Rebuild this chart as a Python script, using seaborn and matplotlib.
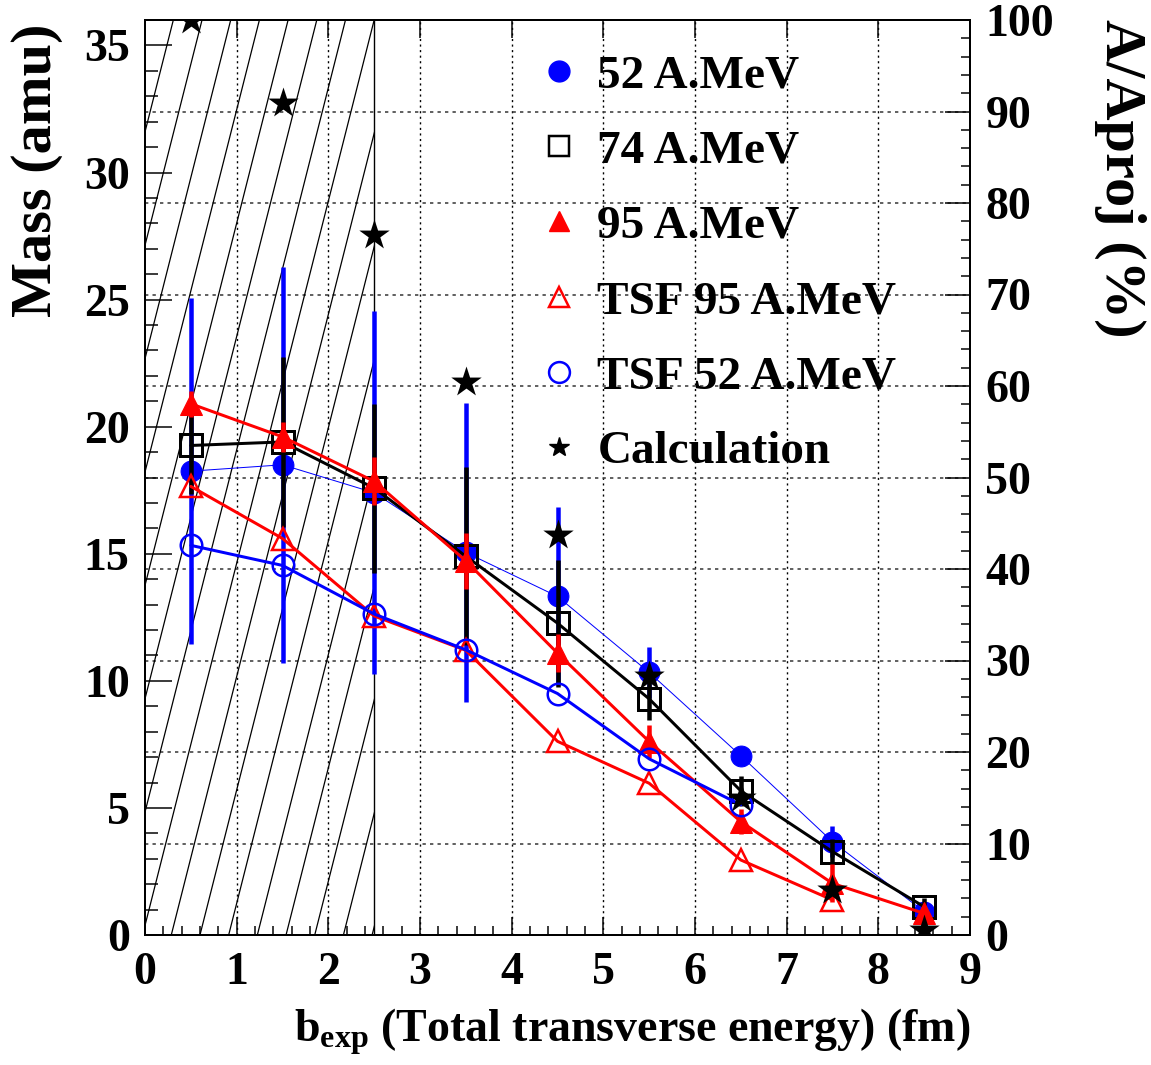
import numpy as np
import pandas as pd
import matplotlib
matplotlib.use("Agg")
import matplotlib.pyplot as plt
import seaborn as sns
from matplotlib.lines import Line2D
from matplotlib.patches import Rectangle
from matplotlib.ticker import MultipleLocator, FixedLocator

# ---------------- data ----------------
b_exp = [0.5, 1.5, 2.5, 3.5, 4.5, 5.5, 6.5, 7.5, 8.5]
mass_52 = [18.25, 18.5, 17.4, 15.05, 13.32, 10.33, 7.05, 3.67, 0.92]
err_52 = [6.8, 7.8, 7.15, 5.9, 3.5, 1.0, 0.3, 0.6, 0.2]
mass_74 = [19.26, 19.4, 17.58, 14.9, 12.27, 9.29, 5.67, 3.28, 1.11]
err_74 = [1.9, 3.35, 3.33, 3.5, 2.5, 0.85, 0.6, 0.5, 0.35]
mass_95 = [20.9, 19.6, 17.85, 14.72, 11.09, 7.61, 4.46, 2.03, 0.85]
err_95 = [0.5, 0.6, 0.95, 1.1, 0.75, 0.65, 0.5, 0.75, 0.2]
b_tsf95 = [0.5, 1.5, 2.5, 3.5, 4.5, 5.5, 6.5, 7.5]
mass_tsf95 = [17.65, 15.6, 12.55, 11.2, 7.62, 5.97, 2.95, 1.38]
b_tsf52 = [0.5, 1.5, 2.5, 3.5, 4.5, 5.5, 6.5]
mass_tsf52 = [15.33, 14.54, 12.63, 11.22, 9.5, 6.93, 5.12]
mass_calc = [36.0, 32.74, 27.56, 21.74, 15.75, 10.2, 5.38, 1.77, 0.2]

labels = ["52 A.MeV", "74 A.MeV", "95 A.MeV", "TSF 95 A.MeV", "TSF 52 A.MeV", "Calculation"]
x_ticks = [0, 1, 2, 3, 4, 5, 6, 7, 8, 9]
y_ticks = [0, 5, 10, 15, 20, 25, 30, 35]
pct_ticks = [0, 10, 20, 30, 40, 50, 60, 70, 80, 90, 100]
x_range = (0, 9)
mass_range = (0, 36)
pct_range = (0, 100)
excluded_b = (0, 2.5)   # hatched region

# ---------------- style ----------------
sns.set_theme(style="white")
FONT = ["Liberation Serif", "DejaVu Serif"]
plt.rcParams["font.family"] = FONT
plt.rcParams["font.weight"] = "bold"
plt.rcParams["text.color"] = "black"
plt.rcParams["axes.labelcolor"] = "black"
plt.rcParams["xtick.color"] = "black"
plt.rcParams["ytick.color"] = "black"
plt.rcParams["mathtext.fontset"] = "custom"
plt.rcParams["mathtext.rm"] = "Liberation Serif:bold"
plt.rcParams["mathtext.bf"] = "Liberation Serif:bold"
plt.rcParams["mathtext.it"] = "Liberation Serif:bold"

PX = 0.72  # points per pixel at dpi 100
BLUE, RED, BLACK = "#0000ff", "#ff0000", "#000000"

fig = plt.figure(figsize=(11.51, 10.65), dpi=100)
W, H = 1151, 1065
L, R, T, B = 145, 970, 20, 935
ax2 = fig.add_axes([L / W, 1 - B / H, (R - L) / W, (B - T) / H])
ax = fig.add_axes([L / W, 1 - B / H, (R - L) / W, (B - T) / H], sharex=ax2)
ax.set_zorder(ax2.get_zorder() + 1)
ax.patch.set_visible(False)
ax2.set_facecolor("white")

ax.set_xlim(*x_range)
ax.set_ylim(*mass_range)
ax2.set_ylim(*pct_range)

# grid: vertical from x ticks, horizontal from percentage axis
for xv in x_ticks[1:-1]:
    ax2.axvline(xv, color="black", lw=1.0, ls=(0, (1.5, 2.5)), zorder=0)
for pv in pct_ticks[1:-1]:
    ax2.axhline(pv, color="#444444", lw=1.2, ls=(0, (2, 2.5)), zorder=0)

# hatched excluded region: steep diagonal lines clipped to rectangle
clip = Rectangle((excluded_b[0], mass_range[0]), excluded_b[1] - excluded_b[0],
                 mass_range[1] - mass_range[0], transform=ax.transData)
slope = 14.25
spacing = 0.313
ys = np.array([mass_range[0], mass_range[1]])
for k in range(-2, 18):
    x0 = 0.309 + spacing * k
    xs = x0 - (mass_range[1] - ys) / slope
    ln, = ax.plot(xs, ys, color="black", lw=0.9, zorder=1)
    ln.set_clip_path(clip)
ax.axvline(excluded_b[1], color="black", lw=1.0, zorder=1)

# ---------------- series ----------------
d52 = pd.DataFrame({"b": b_exp, "m": mass_52, "e": err_52})
d74 = pd.DataFrame({"b": b_exp, "m": mass_74, "e": err_74})
d95 = pd.DataFrame({"b": b_exp, "m": mass_95, "e": err_95})
dt95 = pd.DataFrame({"b": b_tsf95, "m": mass_tsf95})
dt52 = pd.DataFrame({"b": b_tsf52, "m": mass_tsf52})
dcal = pd.DataFrame({"b": b_exp, "m": mass_calc})

ELW = 4.5 * PX

# 52 A.MeV
ax.errorbar(d52.b, d52.m, yerr=d52.e, fmt="none", ecolor=BLUE, elinewidth=ELW, capsize=0, zorder=3)
sns.lineplot(data=d52, x="b", y="m", ax=ax, color=BLUE, lw=1.0 * PX, marker="o",
             markersize=15, markerfacecolor=BLUE, markeredgecolor=BLUE, sort=False,
             estimator=None, zorder=3.1)
# 74 A.MeV
ax.errorbar(d74.b, d74.m, yerr=d74.e, fmt="none", ecolor=BLACK, elinewidth=ELW, capsize=0, zorder=4)
sns.lineplot(data=d74, x="b", y="m", ax=ax, color=BLACK, lw=3 * PX, marker="s",
             markersize=15.5, markerfacecolor="none", markeredgecolor=BLACK,
             markeredgewidth=3 * PX, sort=False, estimator=None, zorder=4.1)
# 95 A.MeV
ax.errorbar(d95.b, d95.m, yerr=d95.e, fmt="none", ecolor=RED, elinewidth=ELW, capsize=0, zorder=5)
sns.lineplot(data=d95, x="b", y="m", ax=ax, color=RED, lw=3 * PX, marker="^",
             markersize=16, markerfacecolor=RED, markeredgecolor=RED, sort=False,
             estimator=None, zorder=5.1)
# TSF 95
sns.lineplot(data=dt95, x="b", y="m", ax=ax, color=RED, lw=3 * PX, marker="^",
             markersize=16, markerfacecolor="none", markeredgecolor=RED,
             markeredgewidth=2.5 * PX, sort=False, estimator=None, zorder=6)
# TSF 52
sns.lineplot(data=dt52, x="b", y="m", ax=ax, color=BLUE, lw=3 * PX, marker="o",
             markersize=15.5, markerfacecolor="none", markeredgecolor=BLUE,
             markeredgewidth=2.5 * PX, sort=False, estimator=None, zorder=7)
# Calculation
sns.scatterplot(data=dcal, x="b", y="m", ax=ax, color=BLACK, marker="*", s=23 ** 2,
                edgecolor=BLACK, linewidth=0, zorder=8)

# ---------------- axes / ticks ----------------
for a in (ax, ax2):
    for s in a.spines.values():
        s.set_linewidth(2 * PX)
        s.set_color("black")

tick_font = dict(family=FONT, weight="bold", size=33, color="black")
ax.xaxis.set_major_locator(FixedLocator(x_ticks))
ax.xaxis.set_minor_locator(MultipleLocator(0.2))
ax.yaxis.set_major_locator(FixedLocator(y_ticks))
ax.yaxis.set_minor_locator(MultipleLocator(1))
ax.tick_params(axis="y", which="major", direction="in", length=27 * PX, width=1.5 * PX,
               left=True, right=False, pad=11, colors="black")
ax.tick_params(axis="y", which="minor", direction="in", length=13 * PX, width=1.5 * PX,
               left=True, right=False, colors="black")
ax.tick_params(axis="x", which="major", direction="in", length=18 * PX, width=1.5 * PX,
               bottom=True, top=True, pad=12, colors="black")
ax.tick_params(axis="x", which="minor", direction="in", length=9 * PX, width=1.5 * PX,
               bottom=True, top=False, colors="black")
ax.set_xticklabels([str(v) for v in x_ticks], fontdict=tick_font)
ax.set_yticklabels([str(v) for v in y_ticks], fontdict=tick_font)
ax.set_xlabel("")
ax.set_ylabel("")

ax2.yaxis.tick_right()
ax2.yaxis.set_major_locator(FixedLocator(pct_ticks))
ax2.yaxis.set_minor_locator(MultipleLocator(2))
ax2.tick_params(axis="y", which="major", direction="in", length=25 * PX, width=1.5 * PX,
                left=False, right=True, pad=11, colors="black")
ax2.tick_params(axis="y", which="minor", direction="in", length=9 * PX, width=1.5 * PX,
                left=False, right=True, colors="black")
ax2.set_yticklabels([str(v) for v in pct_ticks], fontdict=tick_font)
ax2.tick_params(axis="x", which="both", bottom=False, top=False, labelbottom=False)

# axis titles
fig.text(37 / W, 1 - 170 / H, "Mass (amu)", rotation=90, ha="center", va="center",
         fontsize=42, fontweight="bold", family=FONT, color="black")
fig.text(1120 / W, 1 - 178 / H, "A/Aproj (%)", rotation=270, ha="center", va="center",
         fontsize=42, fontweight="bold", family=FONT, color="black")
fig.text(970 / W, 1 - 1042 / H, r"b$_{\mathbf{exp}}$ (Total transverse energy) (fm)",
         ha="right", va="baseline", fontsize=33, fontweight="bold", family=FONT, color="black")

# legend
handles = [
    Line2D([], [], ls="none", marker="o", ms=15, mfc=BLUE, mec=BLUE),
    Line2D([], [], ls="none", marker="s", ms=15, mfc="none", mec=BLACK, mew=2.5 * PX),
    Line2D([], [], ls="none", marker="^", ms=15, mfc=RED, mec=RED),
    Line2D([], [], ls="none", marker="^", ms=15, mfc="none", mec=RED, mew=2.5 * PX),
    Line2D([], [], ls="none", marker="o", ms=15, mfc="none", mec=BLUE, mew=2.5 * PX),
    Line2D([], [], ls="none", marker="*", ms=15, mfc=BLACK, mec=BLACK),
]
leg = ax.legend(handles, labels, loc="upper left", bbox_to_anchor=(512 / W, 1 - 31 / H),
                bbox_transform=fig.transFigure, frameon=False, borderpad=0,
                handlelength=1.0, handletextpad=0.31, labelspacing=0.68,
                prop=dict(family=FONT, weight="bold", size=34))
for t in leg.get_texts():
    t.set_color("black")
leg.set_zorder(20)

fig.savefig("out.png", dpi=100)
